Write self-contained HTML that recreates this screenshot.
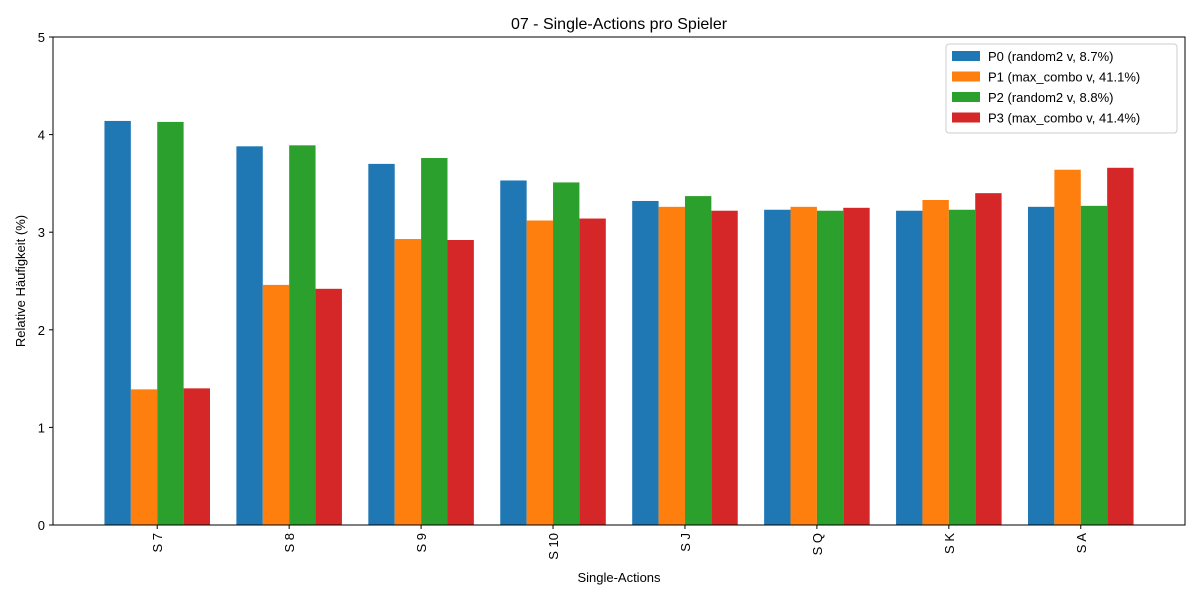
<!DOCTYPE html>
<html><head><meta charset="utf-8"><style>body{margin:0;background:#fff}svg{display:block;font-family:"Liberation Sans","DejaVu Sans",sans-serif}</style></head>
<body>
<svg id="chart" width="1200" height="600" xmlns="http://www.w3.org/2000/svg"></svg>
<script>
const categories = ["S 7","S 8","S 9","S 10","S J","S Q","S K","S A"];
const seriesNames = ["P0 (random2 v, 8.7%)","P1 (max_combo v, 41.1%)","P2 (random2 v, 8.8%)","P3 (max_combo v, 41.4%)"];
const p0 = [4.14,3.88,3.70,3.53,3.32,3.23,3.22,3.26];
const p1 = [1.39,2.46,2.93,3.12,3.26,3.26,3.33,3.64];
const p2 = [4.13,3.89,3.76,3.51,3.37,3.22,3.23,3.27];
const p3 = [1.40,2.42,2.92,3.14,3.22,3.25,3.40,3.66];
const yTicks = [0,1,2,3,4,5];
const series = [p0,p1,p2,p3];
const colors = ["#1f77b4","#ff7f0e","#2ca02c","#d62728"];

const NS="http://www.w3.org/2000/svg";
const svg=document.getElementById('chart');
const L=53,R=1185,T=37,B=525;
const xmin=-0.79,xmax=categories.length-1+0.79;
const x=v=>L+(v-xmin)/(xmax-xmin)*(R-L);
const y=v=>B-(v/5)*(B-T);
const unit=x(1)-x(0);
function mk(tag,attrs,parent){const e=document.createElementNS(NS,tag);for(const k in attrs)e.setAttribute(k,attrs[k]);(parent||svg).appendChild(e);return e;}

series.forEach((s,si)=>{
  s.forEach((v,i)=>{
    const r=mk('rect',{x:x(i+(si-2)*0.2),y:y(v),width:unit*0.2,height:B-y(v),fill:colors[si]});
    
    
  });
});
const frame=mk('rect',{x:L,y:T,width:R-L,height:B-T,fill:'none',stroke:'#000','stroke-width':1});



yTicks.forEach(t=>{
  mk('line',{x1:L-4,x2:L,y1:y(t),y2:y(t),stroke:'#000'});
  const tx=mk('text',{x:L-8,y:y(t)+5,'text-anchor':'end','font-size':13});
  tx.textContent=t;
  
  
});
categories.forEach((c,i)=>{
  mk('line',{x1:x(i),x2:x(i),y1:B,y2:B+4,stroke:'#000'});
  const tx=mk('text',{x:0,y:0,'text-anchor':'end','font-size':13,transform:`translate(${x(i)+5},${B+8}) rotate(-90)`});
  tx.textContent=c;
  
  
});
const title=mk('text',{x:(L+R)/2,y:29,'text-anchor':'middle','font-size':16});
title.textContent="07 - Single-Actions pro Spieler";


const xl=mk('text',{x:(L+R)/2,y:582,'text-anchor':'middle','font-size':13});
xl.textContent="Single-Actions";


const yl=mk('text',{x:0,y:0,'text-anchor':'middle','font-size':13,transform:`translate(25,${(T+B)/2}) rotate(-90)`});
yl.textContent="Relative Häufigkeit (%)";



const lg=mk('g',{});


mk('rect',{x:946,y:44,width:231,height:89,rx:3,fill:'#fff',stroke:'#ccc'},lg);
seriesNames.forEach((n,i)=>{
  const g=mk('g',{},lg);
  
  
  mk('rect',{x:952,y:51+i*20.5,width:28,height:10,fill:colors[i]},g);
  const t=mk('text',{x:988,y:61+i*20.5,'font-size':13},g);
  t.textContent=n;
});
</script>
</body></html>
